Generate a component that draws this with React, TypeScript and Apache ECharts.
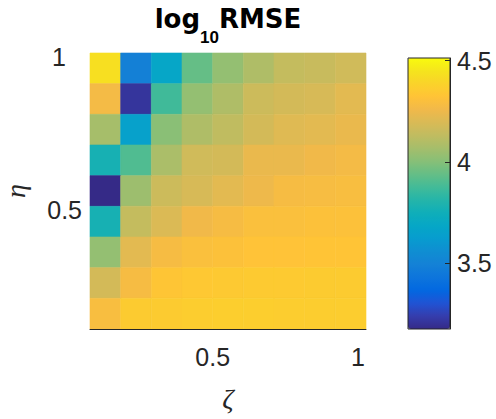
import React, { useEffect, useRef } from "react";
import * as echarts from "echarts";

// ζ (columns, cell centres) and η (rows, cell centres, top to bottom)
const zeta = [0.15, 0.25, 0.35, 0.45, 0.55, 0.65, 0.75, 0.85, 0.95];
const eta = [0.95, 0.85, 0.75, 0.65, 0.55, 0.45, 0.35, 0.25, 0.15];

// log10 RMSE, rows listed top (η = 0.95) to bottom (η = 0.15)
const row1 = [4.43, 3.49, 3.68, 3.94, 4.03, 4.09, 4.14, 4.15, 4.17];
const row2 = [4.27, 3.21, 3.87, 4.03, 4.09, 4.16, 4.18, 4.19, 4.22];
const row3 = [4.07, 3.65, 4.01, 4.09, 4.13, 4.18, 4.21, 4.22, 4.24];
const row4 = [3.77, 3.9, 4.08, 4.17, 4.18, 4.24, 4.24, 4.26, 4.27];
const row5 = [3.174, 4.05, 4.16, 4.19, 4.22, 4.25, 4.28, 4.285, 4.29];
const row6 = [3.77, 4.14, 4.2, 4.26, 4.28, 4.3, 4.3, 4.31, 4.31];
const row7 = [4.03, 4.22, 4.28, 4.3, 4.31, 4.32, 4.32, 4.325, 4.325];
const row8 = [4.18, 4.28, 4.33, 4.34, 4.345, 4.35, 4.35, 4.355, 4.355];
const row9 = [4.29, 4.355, 4.355, 4.36, 4.365, 4.365, 4.36, 4.36, 4.36];
const rmse = [row1, row2, row3, row4, row5, row6, row7, row8, row9];

const colorMin = 3.174;
const colorMax = 4.513;

const xTicks = [0.5, 1];
const yTicks = [0.5, 1];
const cbTicks = [3.5, 4, 4.5];

// parula colormap
const parula = [
  "#352a87", "#353dad", "#2053d4", "#0268e1", "#0d75dc", "#1481d6",
  "#108ed2", "#079ccf", "#06a7c6", "#0faeb9", "#25b5a9", "#42bb98",
  "#65be86", "#87bf77", "#a5be6b", "#c0bc60", "#d9ba56", "#f1b94a",
  "#ffc337", "#fad32a", "#f5e41d", "#f9fb0e",
];

const TXT = "#262626";
const FONT = "Liberation Sans";

export default function App() {
  const ref = useRef<HTMLDivElement>(null);

  useEffect(() => {
    if (!ref.current) return;
    const chart = echarts.init(ref.current, null, { renderer: "svg" });

    const data: number[][] = [];
    rmse.forEach((row, i) => {
      row.forEach((v, j) => data.push([zeta[j], eta[i], v]));
    });
    const dx = zeta[1] - zeta[0];
    const dy = eta[0] - eta[1];

    chart.setOption({
      animation: false,
      backgroundColor: "#ffffff",
      graphic: [
        {
          type: "text",
          x: 228,
          y: 6,
          z: 100,
          style: {
            text: "{a|log}{b|10}{a|RMSE}",
            align: "center",
            verticalAlign: "top",
            rich: {
              a: {
                fontSize: 26,
                fontWeight: "bold",
                fontFamily: "DejaVu Sans",
                fill: "#000",
                lineHeight: 28,
                verticalAlign: "top",
              },
              b: {
                fontSize: 17,
                fontWeight: "bold",
                fontFamily: FONT,
                fill: "#000",
                lineHeight: 17,
                padding: [23, 0, 0, 0],
                verticalAlign: "top",
              },
            },
          },
        },
      ],
      grid: [
        {
          left: 90,
          top: 53,
          width: 276,
          height: 276,
          containLabel: false,
          outerBoundsMode: "none",
        },
        {
          left: 408,
          top: 58,
          width: 42,
          height: 271,
          show: true,
          borderColor: TXT,
          borderWidth: 1,
          backgroundColor: "transparent",
          z: 10,
          containLabel: false,
          outerBoundsMode: "none",
        },
      ],
      xAxis: [
        {
          type: "value",
          gridIndex: 0,
          min: 0.1,
          max: 1,
          z: 10,
          splitLine: { show: false },
          axisLine: { show: true, onZero: false, lineStyle: { color: TXT, width: 1 } },
          axisTick: { show: false },
          axisLabel: {
            customValues: xTicks,
            margin: 15,
            color: TXT,
            fontSize: 25,
            fontFamily: FONT,
            formatter: (v: number) => (v === 1 ? "{one|1}" : "{v|" + v + "}"),
            rich: {
              one: { fontSize: 25, fontFamily: FONT, color: TXT, padding: [0, 16, 0, 0] },
              v: { fontSize: 25, fontFamily: FONT, color: TXT },
            },
          },
          name: "ζ",
          nameLocation: "middle",
          nameGap: 55,
          nameTextStyle: {
            fontFamily: "Liberation Serif",
            fontStyle: "italic",
            fontSize: 28,
            color: TXT,
          },
        },
        {
          type: "value",
          gridIndex: 1,
          min: 0,
          max: 1,
          show: false,
        },
      ],
      yAxis: [
        {
          type: "value",
          gridIndex: 0,
          min: 0.1,
          max: 1,
          z: 10,
          splitLine: { show: false },
          axisLine: { show: false, onZero: false },
          axisTick: { show: false },
          axisLabel: {
            customValues: yTicks,
            margin: 8,
            color: TXT,
            fontSize: 25,
            fontFamily: FONT,
            formatter: (v: number) => (v === 1 ? "{one|1}" : "{v|" + v + "}"),
            rich: {
              one: { fontSize: 25, fontFamily: FONT, color: TXT, padding: [8, 16, 0, 0] },
              v: { fontSize: 25, fontFamily: FONT, color: TXT, padding: [8, 0, 0, 0] },
            },
          },
          name: "η",
          nameLocation: "middle",
          nameRotate: 90,
          nameGap: 61,
          nameTextStyle: {
            fontFamily: "Liberation Serif",
            fontStyle: "italic",
            fontSize: 28,
            color: TXT,
          },
        },
        {
          type: "value",
          gridIndex: 1,
          position: "right",
          min: colorMin,
          max: colorMax,
          z: 20,
          splitLine: { show: false },
          axisLine: { show: true, onZero: false, lineStyle: { color: TXT, width: 1 } },
          axisTick: {
            show: true,
            inside: true,
            length: 5,
            customValues: cbTicks,
            lineStyle: { color: TXT, width: 1 },
          },
          axisLabel: {
            customValues: cbTicks,
            margin: 7,
            color: TXT,
            fontSize: 25,
            fontFamily: FONT,
            formatter: (v: number) => String(v),
          },
        },
      ],
      visualMap: {
        type: "continuous",
        seriesIndex: 0,
        dimension: 2,
        min: colorMin,
        max: colorMax,
        calculable: false,
        realtime: false,
        left: 408,
        top: 58,
        itemWidth: 42,
        itemHeight: 271,
        padding: 0,
        z: 2,
        text: null,
        showLabel: false,
        inRange: { color: parula },
      },
      series: [
        {
          type: "custom",
          xAxisIndex: 0,
          yAxisIndex: 0,
          data,
          encode: { x: 0, y: 1 },
          renderItem: (params: any, api: any) => {
            const x = api.value(0);
            const y = api.value(1);
            const p0 = api.coord([x - dx / 2, y + dy / 2]);
            const p1 = api.coord([x + dx / 2, y - dy / 2]);
            const c = api.visual("color");
            return {
              type: "rect",
              shape: {
                x: p0[0],
                y: p0[1],
                width: p1[0] - p0[0],
                height: p1[1] - p0[1],
              },
              style: { fill: c, stroke: c, lineWidth: 0.6 },
            };
          },
        },
      ],
    });

    return () => chart.dispose();
  }, []);

  return (
    <div
      ref={ref}
      style={{ position: "fixed", left: 0, top: 0, width: 496, height: 419 }}
    />
  );
}
